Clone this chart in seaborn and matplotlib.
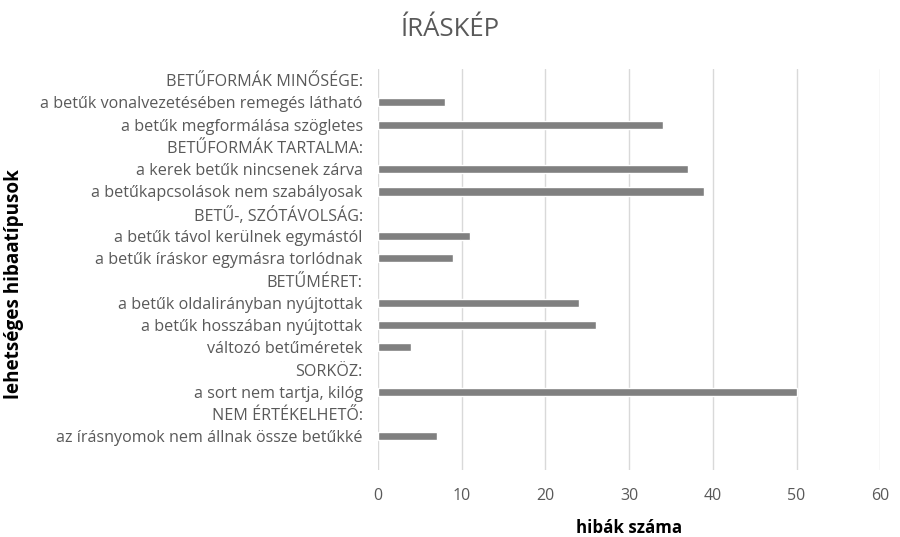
import numpy as np
import pandas as pd
import matplotlib
matplotlib.use("Agg")
import matplotlib.pyplot as plt
import seaborn as sns

categories = [
    "BETŰFORMÁK MINŐSÉGE:",
    "a betűk vonalvezetésében remegés látható",
    "a betűk megformálása szögletes",
    "BETŰFORMÁK TARTALMA:",
    "a kerek betűk nincsenek zárva",
    "a betűkapcsolások nem szabályosak",
    "BETŰ-, SZÓTÁVOLSÁG:",
    "a betűk távol kerülnek egymástól",
    "a betűk íráskor egymásra torlódnak",
    "BETŰMÉRET:",
    "a betűk oldalirányban nyújtottak",
    "a betűk hosszában nyújtottak",
    "változó betűméretek",
    "SORKÖZ:",
    "a sort nem tartja, kilóg",
    "NEM ÉRTÉKELHETŐ:",
    "az írásnyomok nem állnak össze betűkké",
    " ",
]
values = [np.nan, 8, 34, np.nan, 37, 39, np.nan, 11, 9, np.nan, 24, 26, 4,
          np.nan, 50, np.nan, 7, np.nan]
xticks = [0, 10, 20, 30, 40, 50, 60]

sns.set_theme(style="white")
plt.rcParams['font.family'] = ['Open Sans', 'DejaVu Sans']

df = pd.DataFrame({"cat": categories, "val": values})

fig = plt.figure(figsize=(9, 5.37), dpi=100)
ax = fig.add_axes([0.42, 0.125, 0.558, 0.7465])
sns.barplot(data=df.dropna(), x="val", y="cat", order=categories, orient="h",
            color="#808080", saturation=1, width=0.36, errorbar=None, ax=ax)

ax.set_xlim(0, 60)
ax.set_xticks(xticks)
ax.set_xticklabels([str(t) for t in xticks])
ax.grid(axis="x", color="#d9d9d9", linewidth=1)
ax.set_axisbelow(True)
for s in ax.spines.values():
    s.set_visible(False)
ax.tick_params(axis="both", length=0, colors="#595959")
ax.tick_params(axis="x", pad=13, labelsize=11.5)
ax.tick_params(axis="y", pad=11, labelsize=11.6)

ax.set_xlabel("hibák száma", fontsize=12.2, fontweight="bold", color="#000000", labelpad=11)
ax.set_ylabel("")
fig.text(0.005, 0.471, "lehetséges hibaatípusok", rotation=90, fontsize=13.6,
         fontweight="bold", color="#000000", ha="left", va="center")
fig.text(0.5, 0.945, "ÍRÁSKÉP", fontsize=18.5, color="#595959", ha="center", va="center")

fig.savefig("out.png", dpi=100)
